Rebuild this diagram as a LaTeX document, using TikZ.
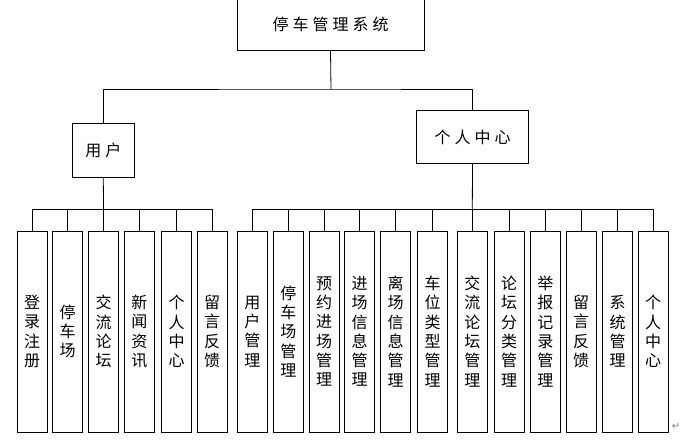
\documentclass[tikz,border=0pt]{standalone}
\usepackage{fontspec}
\newfontfamily\cjk{Noto Sans CJK SC}
\newfontfamily\symfont{DejaVu Sans}
\usepackage{tikz}
\newcommand{\gap}{\hspace{4pt}}
\tikzset{
  box/.style={draw, line width=0.8pt, inner sep=0pt, font=\cjk\fontsize{16}{19.3}\selectfont},
  leaf/.style={box, minimum width=30pt, minimum height=201pt, align=center},
  wire/.style={line width=0.8pt}
}

\begin{document}
\begin{tikzpicture}[x=1pt,y=-1pt]
 \useasboundingbox (0,0) rectangle (685,443);
 % top level
 \node[box, minimum width=187pt, minimum height=53pt] (sys) at (330.5,24.3) {停\gap 车\gap 管\gap 理\gap 系\gap 统};
 \node[box, minimum width=62pt, minimum height=54pt] (user) at (103.3,150.5) {用\gap 户};
 \node[box, minimum width=112pt, minimum height=53pt] (ctr) at (472.5,137) {个\gap 人\gap 中\gap 心};
 \coordinate (j0) at (331,89);
 \draw[wire] (sys.south) -- (j0);
 \draw[wire] (user.north) |- (j0) -| (ctr.north);

 % user leaves
 \foreach \x/\t [count=\i] in {32/{登\\录\\注\\册}, 67.7/{停\\车\\场}, 103.5/{交\\流\\论\\坛},
   139.3/{新\\闻\\资\\讯}, 176.5/{个\\人\\中\\心}, 212/{留\\言\\反\\馈}}
   \node[leaf] (u\i) at (\x,331.5) {\t};
 \coordinate (j1) at (103.5,209);
 \draw[wire] (user.south) -- (j1);
 \draw[wire] (u1.north |- j1) -- (u6.north |- j1);
 \foreach \i in {1,...,6}
   \draw[wire] (u\i.north) -- (u\i.north |- j1);

 % personal centre leaves
 \foreach \x/\t [count=\i] in {252.3/{用\\户\\管\\理}, 288.3/{停\\车\\场\\管\\理}, 324/{预\\约\\进\\场\\管\\理},
   359.7/{进\\场\\信\\息\\管\\理}, 395.7/{离\\场\\信\\息\\管\\理}, 432.7/{车\\位\\类\\型\\管\\理},
   472.3/{交\\流\\论\\坛\\管\\理}, 509.2/{论\\坛\\分\\类\\管\\理}, 545.3/{举\\报\\记\\录\\管\\理},
   581/{留\\言\\反\\馈}, 617.5/{系\\统\\管\\理}, 653/{个\\人\\中\\心}}
   \node[leaf] (c\i) at (\x,331.5) {\t};
 \coordinate (j2) at (472.3,209);
 \draw[wire] (ctr.south) -- (j2);
 \draw[wire] (c1.north |- j2) -- (c12.north |- j2);
 \foreach \i in {1,...,12}
   \draw[wire] (c\i.north) -- (c\i.north |- j2);

 \node[text=gray, font=\symfont\fontsize{10}{10}\selectfont, inner sep=0pt] (ret) at (676,426) {↵};
\end{tikzpicture}
\end{document}
